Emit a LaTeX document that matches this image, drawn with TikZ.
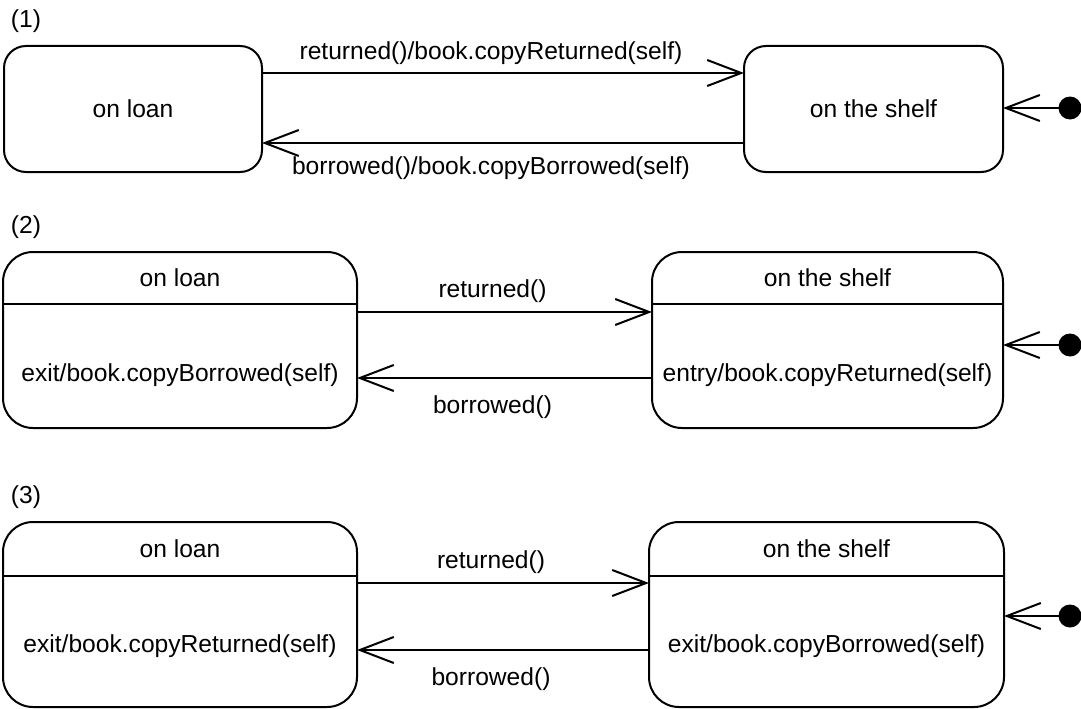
\documentclass[tikz,border=0pt]{standalone}
\usepackage{fontspec}
\setmainfont{Liberation Sans}
\usetikzlibrary{arrows.meta}
\begin{document}
\begin{tikzpicture}[x=1pt,y=-1pt,
  every node/.style={font=\fontsize{24.6}{29}\selectfont},
  simplestate/.style={draw, line width=2pt, rounded corners=22pt, inner sep=0pt, outer sep=0pt},
  compstate/.style={draw, line width=2pt, rounded corners=30pt, inner sep=0pt, outer sep=0pt},
  divider/.style={line width=2pt},
  trans/.style={line width=2pt, -{Straight Barb[length=34pt,width=26pt]}},
  initdot/.style={circle, fill=black, minimum size=23pt, inner sep=0pt, outer sep=0pt},
  lbl/.style={inner sep=0pt},
  tlbl/.style={inner sep=0pt, xshift=-12pt}
]
\useasboundingbox (0,0) rectangle (1081,709);

% ---------- (1) ----------
\node[lbl] (t1) at (26,21) {(1)};
\node[simplestate, minimum width=258pt, minimum height=126pt] (loan1) at (133,109) {on loan};
\node[simplestate, minimum width=259pt, minimum height=126pt] (shelf1) at (873.5,109) {on the shelf};
\node[initdot] (init1) at (1070,108) {};
\draw[trans] (loan1.east |- 0,73) -- node[tlbl, above=7pt] (ret1) {returned()/book.copyReturned(self)} (shelf1.west |- 0,73);
\draw[trans] (shelf1.west |- 0,143) -- node[tlbl, below=13pt] (bor1) {borrowed()/book.copyBorrowed(self)} (loan1.east |- 0,143);
\draw[trans] (init1) -- (shelf1.east |- init1);

% ---------- (2) ----------
\node[lbl] (t2) at (26,227) {(2)};
\node[compstate, minimum width=354pt, minimum height=176pt] (loan2) at (180,340) {};
\node[compstate, minimum width=351pt, minimum height=176pt] (shelf2) at (827.5,340) {};
\draw[divider] (loan2.west |- 0,304) -- (loan2.east |- 0,304);
\draw[divider] (shelf2.west |- 0,304) -- (shelf2.east |- 0,304);
\node[lbl] (loan2t) at (180,278) {on loan};
\node[lbl] (shelf2t) at (827.5,278) {on the shelf};
\node[lbl] (loan2b) at (180,375) {exit/book.copyBorrowed(self)};
\node[lbl] (shelf2b) at (827.5,375) {entry/book.copyReturned(self)};
\node[initdot] (init2) at (1070,345) {};
\draw[trans] (loan2.east |- 0,312) -- node[tlbl, above=8pt] (ret2) {returned()} (shelf2.west |- 0,312);
\draw[trans] (shelf2.west |- 0,378) -- node[tlbl, below=17pt] (bor2) {borrowed()} (loan2.east |- 0,378);
\draw[trans] (init2) -- (shelf2.east |- init2);

% ---------- (3) ----------
\node[lbl] (t3) at (26,497) {(3)};
\node[compstate, minimum width=354pt, minimum height=185pt] (loan3) at (180,614.5) {};
\node[compstate, minimum width=355pt, minimum height=185pt] (shelf3) at (826.5,614.5) {};
\draw[divider] (loan3.west |- 0,576) -- (loan3.east |- 0,576);
\draw[divider] (shelf3.west |- 0,576) -- (shelf3.east |- 0,576);
\node[lbl] (loan3t) at (180,549) {on loan};
\node[lbl] (shelf3t) at (826.5,549) {on the shelf};
\node[lbl] (loan3b) at (180,646) {exit/book.copyReturned(self)};
\node[lbl] (shelf3b) at (826.5,646) {exit/book.copyBorrowed(self)};
\node[initdot] (init3) at (1070,616) {};
\draw[trans] (loan3.east |- 0,583) -- node[tlbl, above=8pt] (ret3) {returned()} (shelf3.west |- 0,583);
\draw[trans] (shelf3.west |- 0,650) -- node[tlbl, below=17pt] (bor3) {borrowed()} (loan3.east |- 0,650);
\draw[trans] (init3) -- (shelf3.east |- init3);
\end{tikzpicture}
\end{document}
